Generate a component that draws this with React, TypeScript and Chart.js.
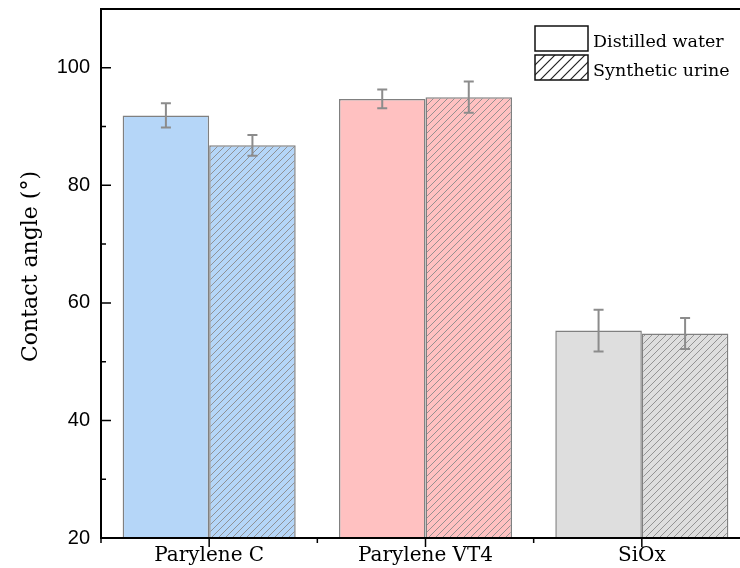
import React, { useEffect, useRef } from 'react';
import { Chart, registerables } from 'chart.js';

Chart.register(...registerables);

const categories = ['Parylene C', 'Parylene VT4', 'SiOx'];
const seriesNames = ['Distilled water', 'Synthetic urine'];
const distilledValues = [91.9, 94.7, 55.3];
const distilledErrors = [2.05, 1.6, 3.55];
const urineValues = [86.8, 95.0, 54.8];
const urineErrors = [1.75, 2.65, 2.65];
const barColors = ['#b5d6f8', '#ffc1c1', '#dedede'];
const yTicks = [20, 40, 60, 80, 100];
const yMinorTicks = [30, 50, 70, 90];
const yTitle = 'Contact angle (°)';

function makeHatch(bg: string | null, line: string, size: number, lw: number) {
  const c = document.createElement('canvas');
  c.width = size;
  c.height = size;
  const g = c.getContext('2d')!;
  g.fillStyle = bg || '#ffffff';
  g.fillRect(0, 0, size, size);
  g.strokeStyle = line;
  g.lineWidth = lw;
  g.beginPath();
  g.moveTo(0, size);
  g.lineTo(size, 0);
  g.moveTo(-size / 2, size / 2);
  g.lineTo(size / 2, -size / 2);
  g.moveTo(size / 2, size * 1.5);
  g.lineTo(size * 1.5, size / 2);
  g.stroke();
  return g.createPattern(c, 'repeat')!;
}

export default function App() {
  const ref = useRef<HTMLCanvasElement>(null);

  useEffect(() => {
    document.body.style.margin = '0';
    const canvas = ref.current!;
    const hatchPatterns = barColors.map((c) => makeHatch(c, '#8a8a8a', 7, 0.9));
    const legendHatch = makeHatch(null, '#222222', 10, 1.2);
    const errs = [distilledErrors, urineErrors];

    const errorBars = {
      id: 'errorBars',
      afterDatasetsDraw(chart: any) {
        const ctx = chart.ctx;
        const y = chart.scales.y;
        ctx.save();
        ctx.strokeStyle = '#8c8c8c';
        ctx.lineWidth = 2;
        chart.data.datasets.forEach((ds: any, i: number) => {
          const meta = chart.getDatasetMeta(i);
          meta.data.forEach((bar: any, j: number) => {
            const v = ds.data[j];
            const e = errs[i][j];
            const x = bar.x;
            const yt = y.getPixelForValue(v + e);
            const yb = y.getPixelForValue(v - e);
            ctx.beginPath();
            ctx.moveTo(x, yt);
            ctx.lineTo(x, yb);
            ctx.moveTo(x - 5, yt);
            ctx.lineTo(x + 5, yt);
            ctx.moveTo(x - 5, yb);
            ctx.lineTo(x + 5, yb);
            ctx.stroke();
          });
        });
        ctx.restore();
      },
    };

    const axesFrame = {
      id: 'axesFrame',
      afterDraw(chart: any) {
        const ctx = chart.ctx;
        const { left, right, top, bottom } = chart.chartArea;
        const y = chart.scales.y;
        const x = chart.scales.x;
        ctx.save();
        ctx.strokeStyle = '#000';
        ctx.lineWidth = 2;
        ctx.beginPath();
        ctx.moveTo(left, top);
        ctx.lineTo(right, top);
        ctx.moveTo(right, top);
        ctx.lineTo(right, bottom);
        ctx.moveTo(left, top - 1);
        ctx.lineTo(left, bottom + 1);
        ctx.moveTo(left - 1, bottom);
        ctx.lineTo(right + 1, bottom);
        ctx.stroke();
        ctx.lineWidth = 1.5;
        ctx.beginPath();
        yTicks.forEach((v) => {
          const py = y.getPixelForValue(v);
          ctx.moveTo(left, py);
          ctx.lineTo(left + 10, py);
          ctx.moveTo(right, py);
          ctx.lineTo(right - 10, py);
        });
        yMinorTicks.forEach((v) => {
          const py = y.getPixelForValue(v);
          ctx.moveTo(left, py);
          ctx.lineTo(left + 5, py);
          ctx.moveTo(right, py);
          ctx.lineTo(right - 5, py);
        });
        categories.forEach((_, i) => {
          const px = x.getPixelForValue(i);
          ctx.moveTo(px, bottom);
          ctx.lineTo(px, bottom + 9);
        });
        for (let i = 0; i <= categories.length; i++) {
          const px = x.getPixelForValue(i - 0.5);
          ctx.moveTo(px, bottom);
          ctx.lineTo(px, bottom + 5);
        }
        ctx.stroke();

        // y title
        ctx.fillStyle = '#000';
        ctx.font = '22px "DejaVu Serif"';
        ctx.textAlign = 'center';
        ctx.textBaseline = 'middle';
        ctx.translate(31, (top + bottom) / 2 - 7);
        ctx.rotate(-Math.PI / 2);
        ctx.fillText(yTitle, 0, 0);
        ctx.restore();

        // legend
        ctx.save();
        const boxes = [
          { y: 26, fill: '#ffffff' as any },
          { y: 55, fill: legendHatch as any },
        ];
        boxes.forEach((b, i) => {
          ctx.fillStyle = b.fill;
          ctx.fillRect(535, b.y, 53, 25);
          ctx.strokeStyle = '#111';
          ctx.lineWidth = 1.5;
          ctx.strokeRect(535, b.y, 53, 25);
          ctx.fillStyle = '#000';
          ctx.font = '17.5px "DejaVu Serif"';
          ctx.textAlign = 'left';
          ctx.textBaseline = 'alphabetic';
          ctx.fillText(seriesNames[i], 593, b.y + 20.5);
        });
        ctx.restore();
      },
    };

    const chart = new Chart(canvas, {
      type: 'bar',
      data: {
        labels: categories,
        datasets: [
          {
            label: seriesNames[0],
            data: distilledValues,
            backgroundColor: barColors,
            borderColor: '#808080',
            borderWidth: 1.5,
            categoryPercentage: 0.8,
            barPercentage: 1,
          },
          {
            label: seriesNames[1],
            data: urineValues,
            backgroundColor: hatchPatterns as any,
            borderColor: '#808080',
            borderWidth: 1.5,
            categoryPercentage: 0.8,
            barPercentage: 1,
          },
        ],
      },
      options: {
        responsive: false,
        animation: false,
        layout: { padding: { top: 9, right: 10, left: 0, bottom: 0 } },
        plugins: { legend: { display: false }, tooltip: { enabled: false }, title: { display: false } },
        scales: {
          x: {
            grid: { display: false, drawTicks: false },
            border: { display: false },
            ticks: {
              color: '#000',
              font: { family: 'DejaVu Serif', size: 20 },
              padding: 6,
            },
            afterFit(scale: any) {
              scale.height = 568 - 538;
              scale.paddingLeft = 0;
              scale.paddingRight = 0;
            },
          },
          y: {
            min: 20,
            max: 110,
            grid: { display: false, drawTicks: false },
            border: { display: false },
            afterBuildTicks(scale: any) {
              scale.ticks = yTicks.map((v) => ({ value: v }));
            },
            ticks: {
              color: '#000',
              font: { family: 'Liberation Sans', size: 20 },
              padding: 11,
            },
            afterFit(scale: any) {
              scale.width = 101;
              scale.paddingTop = 0;
              scale.paddingBottom = 0;
            },
          },
        },
      },
      plugins: [errorBars, axesFrame],
    });
    return () => chart.destroy();
  }, []);

  return (
    <div style={{ width: 740, height: 568, overflow: 'hidden', position: 'relative' }}>
      <canvas ref={ref} width={760} height={568} style={{ display: 'block' }} />
    </div>
  );
}
